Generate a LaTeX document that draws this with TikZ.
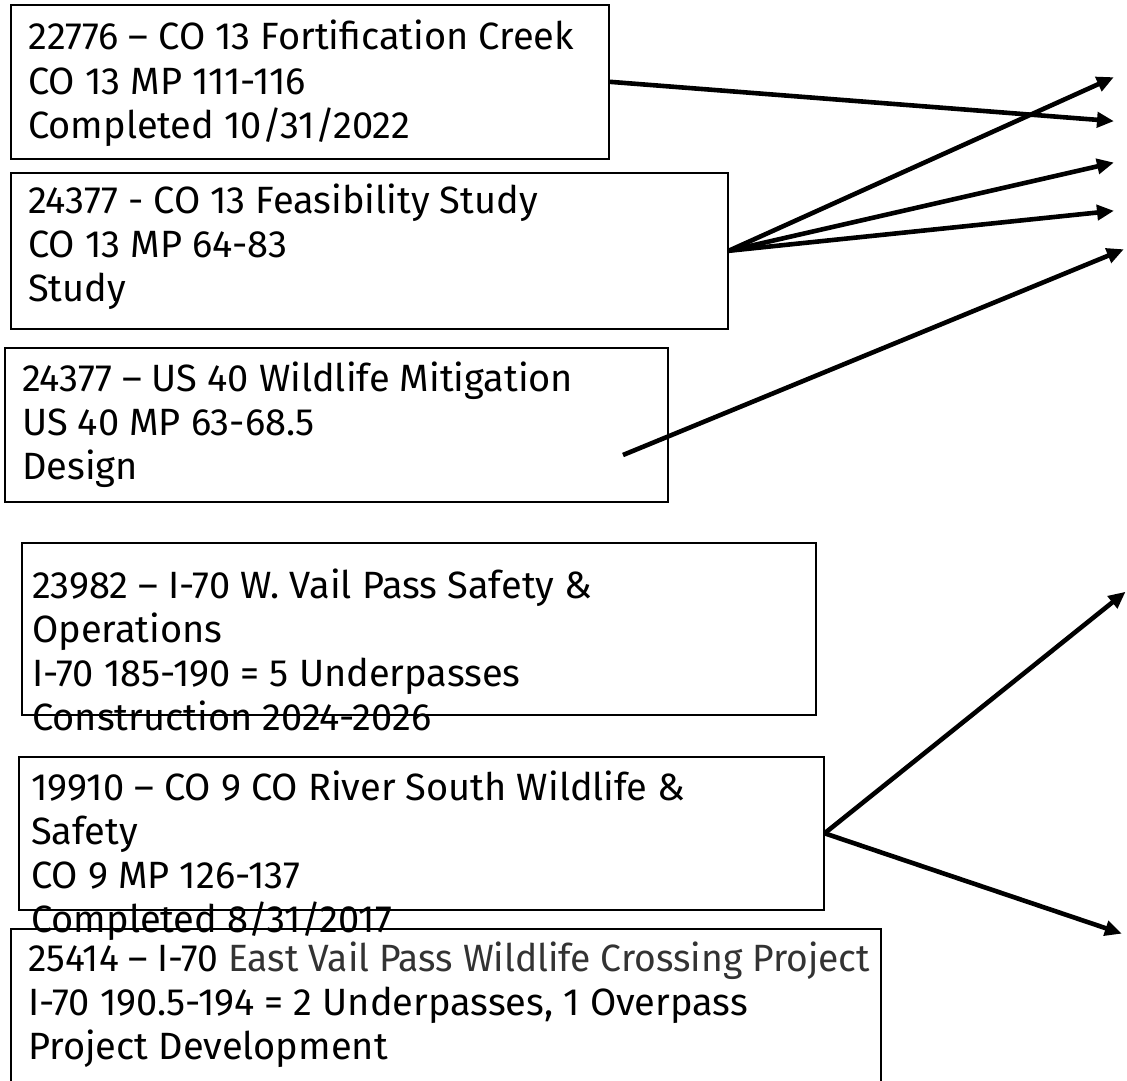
\documentclass[tikz,border=0pt]{standalone}
\usepackage{fontspec}
\setmainfont{Fira Sans}
\usetikzlibrary{arrows.meta}
\tikzset{
  box/.style={draw=black, line width=1.6pt, fill=none, inner sep=0pt, anchor=north west},
  ln/.style={anchor=base west, inner sep=0pt, text=black,
    font=\fontsize{38}{44}\selectfont},
  conn/.style={line width=4.6pt, -{Triangle[length=17pt,width=15pt]}, shorten >=-2pt}
}
\begin{document}
\begin{tikzpicture}[x=1pt,y=-1pt]
\clip (0,0) rectangle (1127,1081);
\fill[white] (0,0) rectangle (1127,1081);
% boxes
\node[box, minimum width=598pt, minimum height=154pt] (b1) at (10,4) {};
\node[box, minimum width=717pt, minimum height=156pt] (b2) at (10,172) {};
\node[box, minimum width=663pt, minimum height=154pt] (b3) at (4,347) {};
\node[box, minimum width=794pt, minimum height=172pt] (b4) at (21,542) {};
\node[box, minimum width=805pt, minimum height=153pt] (b5) at (18,756) {};
\node[box, minimum width=870pt, minimum height=180pt] (b6) at (10,928) {};
% texts
\node[ln] (t1a) at (28,50) {22776 – CO 13 Fortification Creek};
\node[ln] (t1b) at (28,94) {CO 13 MP 111-116};
\node[ln] (t1c) at (28,138) {Completed 10/31/2022};
\node[ln] (t2a) at (28,213) {24377 - CO 13 Feasibility Study};
\node[ln] (t2b) at (28,257) {CO 13 MP 64-83};
\node[ln] (t2c) at (28,301) {Study};
\node[ln] (t3a) at (22,391) {24377 – US 40 Wildlife Mitigation};
\node[ln] (t3b) at (22,435) {US 40 MP 63-68.5};
\node[ln] (t3c) at (22,479) {Design};
\node[ln] (t4a) at (32,598) {23982 – I-70 W. Vail Pass Safety \&};
\node[ln] (t4b) at (32,642) {Operations};
\node[ln] (t4c) at (32,686) {I-70 185-190 = 5 Underpasses};
\node[ln] (t4d) at (32,730) {Construction 2024-2026};
\node[ln] (t5a) at (31,800) {19910 – CO 9 CO River South Wildlife \&};
\node[ln] (t5b) at (31,844) {Safety};
\node[ln] (t5c) at (31,888) {CO 9 MP 126-137};
\node[ln] (t5d) at (31,932) {Completed 8/31/2017};
\node[ln, xscale=0.98, transform shape] (t6a) at (28,971) {25414 – I-70 \textcolor{black!80}{East Vail Pass Wildlife Crossing Project}};
\node[ln] (t6b) at (28,1015) {I-70 190.5-194 = 2 Underpasses, 1 Overpass};
\node[ln] (t6c) at (28,1059) {Project Development};
% free ends
\coordinate (e1) at (1112,121);
\coordinate (e2) at (1112,78);
\coordinate (e3) at (1112,163);
\coordinate (e4) at (1112,211);
\coordinate (s5) at (623,455);
\coordinate (e5) at (1122,250);
\coordinate (e6) at (1124,593);
\coordinate (e7) at (1120,933);
% connectors
\draw[conn] (b1.east) -- (e1);
\draw[conn] (b2.east) -- (e2);
\draw[conn] (b2.east) -- (e3);
\draw[conn] (b2.east) -- (e4);
\draw[conn] (s5) -- (e5);
\draw[conn] (b5.east) -- (e6);
\draw[conn] (b5.east) -- (e7);
\end{tikzpicture}
\end{document}
